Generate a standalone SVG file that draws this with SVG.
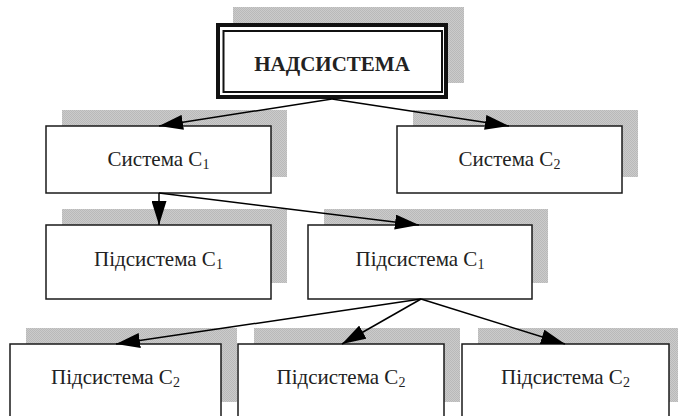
<svg xmlns="http://www.w3.org/2000/svg" width="678" height="416" viewBox="0 0 678 416">
  <defs>
    <pattern id="dots" width="2" height="2" patternUnits="userSpaceOnUse">
      <rect width="2" height="2" fill="#cbcbcb"/>
      <rect width="1" height="1" fill="#b9b9b9"/>
      <rect x="1" y="1" width="1" height="1" fill="#b9b9b9"/>
    </pattern>
    <marker id="arrow" markerUnits="userSpaceOnUse" markerWidth="24" markerHeight="15" refX="24" refY="7.5" orient="auto">
      <path d="M0,0 L24,7.5 L0,15 Z" fill="#000"/>
    </marker>
  </defs>
  <style>
    .shadow { fill: url(#dots); stroke: none; }
    .box { fill: #fff; stroke: #1a1a1a; stroke-width: 1.5; }
    .label { font-family: "Liberation Serif", "Times New Roman", serif; font-size: 21px; fill: #222; text-anchor: middle; }
    .sub { font-size: 14px; }
    .title { font-family: "Liberation Serif", "Times New Roman", serif; font-size: 21px; font-weight: bold; fill: #222; text-anchor: middle; }
    .conn { stroke: #000; stroke-width: 1.5; fill: none; marker-end: url(#arrow); }
  </style>
  <rect width="678" height="416" fill="#fff"/>

  <g id="nadsystema">
    <rect class="shadow" x="233" y="7" width="231" height="76"/>
    <rect x="218" y="25" width="228" height="72" fill="#fff" stroke="#111" stroke-width="4"/>
    <rect x="223.5" y="31" width="218.5" height="61" fill="#fff" stroke="#111" stroke-width="2"/>
    <text class="title" x="332" y="71">НАДСИСТЕМА</text>
  </g>

  <g id="system-c1">
    <rect class="shadow" x="62" y="110" width="225" height="67"/>
    <rect class="box" x="46" y="126" width="225" height="67"/>
    <text class="label" x="158.5" y="166">Система С<tspan class="sub" dy="3">1</tspan></text>
  </g>

  <g id="system-c2">
    <rect class="shadow" x="413" y="110" width="225" height="67"/>
    <rect class="box" x="397" y="126" width="225" height="67"/>
    <text class="label" x="509.5" y="166">Система С<tspan class="sub" dy="3">2</tspan></text>
  </g>

  <g id="subsystem-c1-a">
    <rect class="shadow" x="62" y="209" width="225" height="74"/>
    <rect class="box" x="46" y="225" width="225" height="74"/>
    <text class="label" x="158.5" y="266">Підсистема С<tspan class="sub" dy="3">1</tspan></text>
  </g>

  <g id="subsystem-c1-b">
    <rect class="shadow" x="324" y="209" width="224" height="74"/>
    <rect class="box" x="308" y="225" width="224" height="74"/>
    <text class="label" x="420" y="266">Підсистема С<tspan class="sub" dy="3">1</tspan></text>
  </g>

  <g id="subsystem-c2-a">
    <rect class="shadow" x="26" y="328" width="211" height="74"/>
    <rect class="box" x="10" y="344" width="211" height="74"/>
    <text class="label" x="115.5" y="384">Підсистема С<tspan class="sub" dy="3">2</tspan></text>
  </g>

  <g id="subsystem-c2-b">
    <rect class="shadow" x="254" y="328" width="206" height="74"/>
    <rect class="box" x="238" y="344" width="206" height="74"/>
    <text class="label" x="341" y="384">Підсистема С<tspan class="sub" dy="3">2</tspan></text>
  </g>

  <g id="subsystem-c2-c">
    <rect class="shadow" x="478" y="328" width="207" height="74"/>
    <rect class="box" x="462" y="344" width="207" height="74"/>
    <text class="label" x="565.5" y="384">Підсистема С<tspan class="sub" dy="3">2</tspan></text>
  </g>

  <g id="connectors">
    <line class="conn" x1="332" y1="99" x2="159" y2="126"/>
    <line class="conn" x1="332" y1="99" x2="509" y2="126"/>
    <line class="conn" x1="159" y1="193" x2="159" y2="225"/>
    <line class="conn" x1="159" y1="193" x2="419" y2="225"/>
    <line class="conn" x1="421" y1="299" x2="116" y2="344"/>
    <line class="conn" x1="421" y1="299" x2="342" y2="344"/>
    <line class="conn" x1="421" y1="299" x2="565" y2="344"/>
  </g>
</svg>
